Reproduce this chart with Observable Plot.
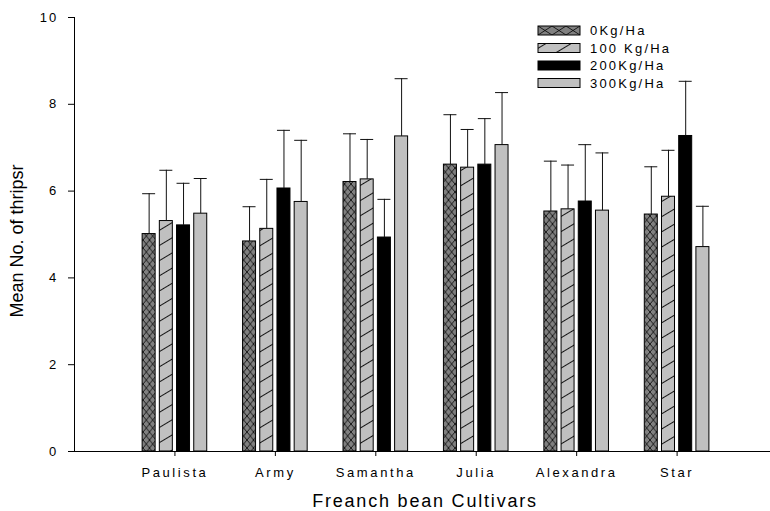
<!DOCTYPE html>
<html>
<head>
<meta charset="utf-8">
<script src="https://cdn.jsdelivr.net/npm/d3@7"></script>
<script src="https://cdn.jsdelivr.net/npm/@observablehq/plot@0.6"></script>
<style>
  body { margin: 0; background: #fff; }
  #chart { position: relative; width: 770px; height: 511px; }
</style>
</head>
<body>
<div id="chart"></div>
<script>
// ---- data ----
const cultivars = ["Paulista", "Army", "Samantha", "Julia", "Alexandra", "Star"];
const doses = ["0Kg/Ha", "100 Kg/Ha", "200Kg/Ha", "300Kg/Ha"];
const mean0   = [5.01, 4.84, 6.21, 6.61, 5.53, 5.46];
const err0    = [0.93, 0.80, 1.11, 1.15, 1.16, 1.10];
const mean100 = [5.31, 5.13, 6.27, 6.54, 5.58, 5.87];
const err100  = [1.17, 1.14, 0.92, 0.88, 1.02, 1.07];
const mean200 = [5.21, 6.06, 4.93, 6.61, 5.76, 7.27];
const err200  = [0.97, 1.34, 0.88, 1.06, 1.31, 1.26];
const mean300 = [5.48, 5.75, 7.26, 7.06, 5.55, 4.71];
const err300  = [0.81, 1.42, 1.33, 1.21, 1.33, 0.94];
const yTicks = [0, 2, 4, 6, 8, 10];

// ---- table ----
const means = [mean0, mean100, mean200, mean300];
const errs = [err0, err100, err200, err300];
const fills = ["url(#xhatch)", "url(#dhatch)", "#000000", "#c0c0c0"];
const step = 0.1713, half = 0.0647;
const rows = [];
cultivars.forEach((c, ci) => {
  doses.forEach((d, k) => {
    const cx = ci + 1 + (k - 1.5) * step;
    rows.push({cultivar: c, dose: d, k, cx, x1: cx - half, x2: cx + half,
               mean: means[k][ci], top: means[k][ci] + errs[k][ci], fill: fills[k]});
  });
});

const font = "'Liberation Sans', Arial, Helvetica, sans-serif";

const plot = Plot.plot({
  width: 770,
  height: 511,
  marginLeft: 74,
  marginRight: 0,
  marginTop: 17,
  marginBottom: 60,
  style: {fontFamily: font, fontSize: "13px", background: "#fff", color: "#000", overflow: "visible"},
  x: {type: "linear", domain: [0, 6.93]},
  y: {domain: [0, 10]},
  marks: [
    Plot.rectY(rows, {x1: "x1", x2: "x2", y1: 0, y2: "mean", fill: "fill", stroke: "#000", strokeWidth: 1}),
    Plot.ruleX(rows, {x: "cx", y1: "mean", y2: "top", stroke: "#111", strokeWidth: 1}),
    Plot.ruleY(rows, {x1: "x1", x2: "x2", y: "top", stroke: "#111", strokeWidth: 1}),
    Plot.ruleY([0], {stroke: "#000", strokeWidth: 1}),
    Plot.ruleX([0], {y1: 0, y2: 10, stroke: "#000", strokeWidth: 1}),
    Plot.axisY({ticks: yTicks, tickSize: 6, tickPadding: 10, label: null, fontSize: 13}),
    Plot.axisX({ticks: [1, 2, 3, 4, 5, 6], tickFormat: d => cultivars[d - 1], tickSize: 5, tickPadding: 11, label: null, fontSize: 13})
  ]
});

document.getElementById("chart").appendChild(plot);
const svg = d3.select(plot);

// patterns
const defs = svg.insert("defs", ":first-child");
const xp = defs.append("pattern").attr("id", "xhatch").attr("patternUnits", "userSpaceOnUse")
  .attr("width", 6.5).attr("height", 8);
xp.append("rect").attr("width", 6.5).attr("height", 8).attr("fill", "#808080");
xp.append("path").attr("d", "M0,0L6.5,8M6.5,0L0,8").attr("stroke", "#000").attr("stroke-width", 0.8);

const dp = defs.append("pattern").attr("id", "dhatch").attr("patternUnits", "userSpaceOnUse")
  .attr("width", 20).attr("height", 13).attr("patternTransform", "rotate(-31)");
dp.append("rect").attr("width", 20).attr("height", 13).attr("fill", "#c0c0c0");
dp.append("line").attr("x1", 0).attr("x2", 20).attr("y1", 6.5).attr("y2", 6.5)
  .attr("stroke", "#000").attr("stroke-width", 0.9);

const lxp = defs.append("pattern").attr("id", "xhatchL").attr("patternUnits", "userSpaceOnUse")
  .attr("x", 538).attr("y", 26).attr("width", 14).attr("height", 9);
lxp.append("rect").attr("width", 14).attr("height", 9).attr("fill", "#808080");
lxp.append("path").attr("d", "M0,0L14,9M14,0L0,9").attr("stroke", "#000").attr("stroke-width", 0.8);

// letter spacing on tick labels
svg.selectAll('g[aria-label="x-axis tick label"] text').attr("letter-spacing", "2.6px");
svg.selectAll('g[aria-label="y-axis tick label"] text').attr("letter-spacing", "2.2px");

// axis titles
svg.append("text")
  .attr("transform", "translate(23,241) rotate(-90)")
  .attr("text-anchor", "middle")
  .attr("font-family", font).attr("font-size", 18).attr("fill", "#000")
  .text("Mean No. of thripsr");
svg.append("text")
  .attr("x", 425).attr("y", 507)
  .attr("text-anchor", "middle")
  .attr("font-family", font).attr("font-size", 18).attr("letter-spacing", "1.8px").attr("fill", "#000")
  .text("Freanch bean Cultivars");

// legend
const legendFills = ["url(#xhatchL)", "url(#dhatch)", "#000000", "#c0c0c0"];
const lg = svg.append("g").attr("text-anchor", "start");
doses.forEach((d, k) => {
  const base = 35 + k * 17.5;
  lg.append("rect").attr("x", 538).attr("y", base - 9).attr("width", 42).attr("height", 9)
    .attr("fill", legendFills[k]).attr("stroke", "#000").attr("stroke-width", 1);
  lg.append("text").attr("x", 590).attr("y", base).attr("text-anchor", "start")
    .attr("font-family", font).attr("font-size", 13).attr("letter-spacing", "2.2px").attr("fill", "#000")
    .text(d);
});
</script>
</body>
</html>
